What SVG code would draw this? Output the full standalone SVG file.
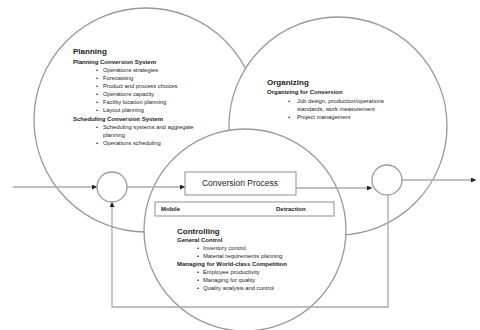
<svg xmlns="http://www.w3.org/2000/svg" width="480" height="330" viewBox="0 0 480 330">
<style>
.big{fill:#fff;stroke:#999;stroke-width:1.3}
.j{fill:#fff;stroke:#999;stroke-width:1.3}
.ln{fill:none;stroke:#aaa;stroke-width:1.3}
.box{fill:#fff;stroke:#999;stroke-width:1.1}
text{font-family:"Liberation Sans",Arial,sans-serif;fill:#222}
.h{font-size:8px;font-weight:bold}
.s{font-size:6px;font-weight:bold}
.i{font-size:5.8px}
.cp{font-size:8.5px}
</style>
<defs>
<marker id="ah" viewBox="0 0 10 10" refX="10" refY="5" markerWidth="5" markerHeight="5" orient="auto" markerUnits="userSpaceOnUse">
<path d="M0,0 L10,5 L0,10 z" fill="#222"/>
</marker>
</defs>
<g id="planning">
<circle class="big" cx="146" cy="120" r="112"/>
<text class="h" x="73" y="54">Planning</text>
<text class="s" x="73" y="64">Planning Conversion System</text>
<text class="i" x="96" y="72">•</text><text class="i" x="103" y="72">Operations strategies</text>
<text class="i" x="96" y="80">•</text><text class="i" x="103" y="80">Forecasting</text>
<text class="i" x="96" y="88">•</text><text class="i" x="103" y="88">Product and process choices</text>
<text class="i" x="96" y="96">•</text><text class="i" x="103" y="96">Operations capacity</text>
<text class="i" x="96" y="104">•</text><text class="i" x="103" y="104">Facility location planning</text>
<text class="i" x="96" y="112">•</text><text class="i" x="103" y="112">Layout  planning</text>
<text class="s" x="73" y="121">Scheduling Conversion System</text>
<text class="i" x="96" y="129">•</text><text class="i" x="103" y="129">Scheduling systems and aggregate</text>
<text class="i" x="103" y="137">planning</text>
<text class="i" x="96" y="145">•</text><text class="i" x="103" y="145">Operations scheduling</text>
</g>
<g id="organizing">
<circle class="big" cx="338" cy="126" r="109"/>
<text class="h" x="267" y="85">Organizing</text>
<text class="s" x="267" y="94">Organizing for Conversion</text>
<text class="i" x="288" y="103">•</text><text class="i" x="297" y="103">Job design, production/operations</text>
<text class="i" x="297" y="111">standards, work measurement</text>
<text class="i" x="288" y="119">•</text><text class="i" x="297" y="119">Project management</text>
</g>
<g id="controlling">
<circle class="big" cx="245" cy="230" r="101"/>
<text class="h" x="177" y="234">Controlling</text>
<text class="s" x="177" y="242">General Control</text>
<text class="i" x="197" y="250">•</text><text class="i" x="203" y="250">Inventory control</text>
<text class="i" x="197" y="258">•</text><text class="i" x="203" y="258">Material requirements planning</text>
<text class="s" x="177" y="266">Managing for World-class Competition</text>
<text class="i" x="197" y="274">•</text><text class="i" x="203" y="274">Employee productivity</text>
<text class="i" x="197" y="282">•</text><text class="i" x="203" y="282">Managing for quality</text>
<text class="i" x="197" y="290">•</text><text class="i" x="203" y="290">Quality analysis and control</text>
</g>
<g id="connectors">
<line class="ln" x1="13" y1="187" x2="97" y2="187" marker-end="url(#ah)"/>
<line class="ln" x1="127" y1="187" x2="185" y2="187" marker-end="url(#ah)"/>
<line class="ln" x1="295" y1="188" x2="372" y2="188" marker-end="url(#ah)"/>
<line class="ln" x1="402" y1="180" x2="476" y2="180" marker-end="url(#ah)"/>
<polyline class="ln" points="388,195 388,307 112,307 112,202" marker-end="url(#ah)"/>
</g>
<g id="sum-in"><circle class="j" cx="112" cy="187" r="15"/></g>
<g id="sum-out"><circle class="j" cx="387" cy="180" r="15"/></g>
<g id="conversion">
<rect class="box" x="185" y="172" width="111" height="23"/>
<text class="cp" x="240" y="186" text-anchor="middle">Conversion Process</text>
</g>
<g id="bar">
<rect class="box" x="155" y="202" width="179" height="14"/>
<text class="s" x="161" y="211">Mobile</text>
<text class="s" x="276" y="211">Detraction</text>
</g>
</svg>
